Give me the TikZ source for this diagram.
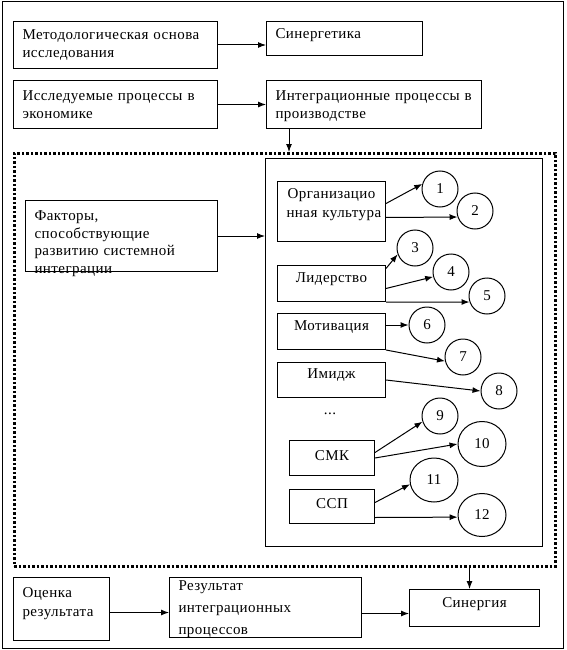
\documentclass[tikz,border=0pt]{standalone}
\usepackage{fontspec}
\setmainfont{Liberation Serif}[LetterSpace=3]
\usetikzlibrary{arrows.meta, positioning, shapes.geometric}
\newcommand\boxfont{\fontsize{15}{18.5}\selectfont}

\begin{document}
\begin{tikzpicture}[
  x=1pt, y=-1pt,
  every path/.style={line width=1pt},
  box/.style={draw, rectangle, anchor=north west,
              inner xsep=9pt, inner ysep=0pt,
              font=\boxfont, align=left},
  cbox/.style={box, align=center},
  num/.style={draw, circle, minimum size=36pt, inner sep=0pt,
              font=\boxfont},
  numb/.style={num, ellipse, minimum width=48pt, minimum height=45pt},
  dotframe/.style={draw, rectangle, anchor=north west,
                   line width=2.6pt, dash pattern=on 2.6pt off 1.9pt},
  arrow/.style={-{Latex[length=8pt,width=6pt]}},
]
  \useasboundingbox (0,0) rectangle (566,650);
  \draw (2,2) rectangle (563,648);

  \node[box, text width=186pt, text height=18pt, text depth=29pt] (meth) at (13,21)
    {Методологическая основа\\исследования};
  \node[box, text width=138pt, text height=17pt, text depth=17pt] (syn) at (266,21)
    {Синергетика};
  \draw[arrow] (meth.east) -- (meth.east -| syn.west);

  \node[box, text width=186pt, text height=20pt, text depth=28pt] (proc) at (13,80)
    {Исследуемые процессы в\\экономике};
  \node[box, text width=197pt, text height=20pt, text depth=28pt] (integ) at (266,80)
    {\mbox{Интеграционные процессы в}\\производстве};
  \draw[arrow] (proc.east) -- (proc.east -| integ.west);

  \node[dotframe, minimum width=541pt, minimum height=413pt] (frame) at (13,152) {};
  \draw[arrow] ([xshift=23pt]integ.south west) -- ([xshift=23pt]integ.south west |- frame.north);

  \node[box, text width=174pt, text height=20pt, text depth=51pt,
        font=\fontsize{15}{17.7}\selectfont] (fact) at (25,200)
    {Факторы,\\способствующие\\развитию системной\\интеграции};
  \node[draw, rectangle, anchor=north west, minimum width=277pt,
        minimum height=388pt] (fbox) at (265,158) {};
  \draw[arrow] (fact.east) -- (fact.east -| fbox.west);

  \node[cbox, text width=90pt, text height=17pt, text depth=43pt] (org) at (277,181)
    {Организацио\\\mbox{нная культура}};
  \node[cbox, text width=90pt, text height=17pt, text depth=19pt] (lid) at (277,265)
    {Лидерство};
  \node[cbox, text width=90pt, text height=17pt, text depth=19pt] (mot) at (277,313)
    {Мотивация};
  \node[cbox, text width=90pt, text height=16pt, text depth=19pt] (img) at (277,362)
    {Имидж};
  \node[font=\boxfont] (dots) at (330,414) {...};
  \node[cbox, text width=67pt, text height=20pt, text depth=15pt] (smk) at (289,440)
    {СМК};
  \node[cbox, text width=67pt, text height=19pt, text depth=15pt] (ssp) at (289,489)
    {ССП};

  \node[num] (n1) at (440,189) {1};
  \node[num] (n2) at (475,211) {2};
  \node[num] (n3) at (415,248) {3};
  \node[num] (n4) at (451,272) {4};
  \node[num] (n5) at (487,296) {5};
  \node[num] (n6) at (427,325) {6};
  \node[num] (n7) at (463,357) {7};
  \node[num] (n8) at (499,391) {8};
  \node[num] (n9) at (440,416) {9};
  \node[numb] (n10) at (482,444) {10};
  \node[numb, minimum height=44pt] (n11) at (434,480) {11};
  \node[numb, minimum height=43pt] (n12) at (482,515) {12};

  \draw[arrow] ([yshift=8pt]org.east) -- (n1.164);
  \draw[arrow] ([yshift=-6pt]org.east) -- (n2.199);
  \draw[arrow] ([yshift=15pt]lid.east) -- (n3.200);
  \draw[arrow] ([yshift=-5pt]lid.east) -- (n4.195);
  \draw[arrow] (lid.south east) -- (n5.199);
  \draw[arrow] (n6.west -| mot.east) -- (n6.west);
  \draw[arrow] (mot.south east) -- (n7.193);
  \draw[arrow] (img.east) -- (n8.west);
  \draw[arrow] ([yshift=5.5pt]smk.east) -- (n9.198);
  \draw[arrow] (smk.east) -- (n10.west);
  \draw[arrow] ([yshift=4pt]ssp.east) -- (n11.190);
  \draw[arrow] ([yshift=-11pt]ssp.east) -- (n12.185);

  \node[box, text width=78pt, text height=20pt, text depth=43pt] (ocen) at (13,577)
    {Оценка\\результата};
  \node[box, text width=174pt, text height=13pt, text depth=47pt,
        font=\fontsize{15}{22}\selectfont] (res) at (169,577)
    {Результат\\интеграционных\\процессов};
  \node[cbox, text width=112pt, text height=18pt, text depth=19pt] (syner) at (409,589)
    {Синергия};
  \draw[arrow] ([yshift=-3.5pt]ocen.east) -- ([yshift=-3.5pt]ocen.east -| res.west);
  \draw[arrow] ([yshift=-6pt]res.east) -- ([yshift=-6pt]res.east -| syner.west);
  \draw[arrow] ([xshift=-5pt]syner.north |- frame.south) -- ([xshift=-5pt]syner.north);
\end{tikzpicture}
\end{document}
